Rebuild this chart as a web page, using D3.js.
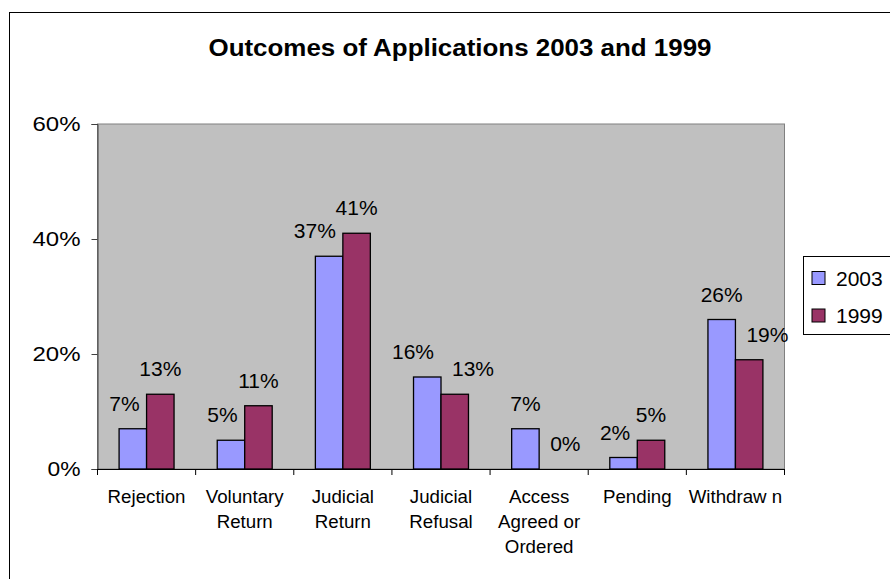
<!DOCTYPE html>
<html>
<head>
<meta charset="utf-8">
<script src="https://cdn.jsdelivr.net/npm/d3@7"></script>
<style>
  body { margin: 0; background: #fff; }
  svg { display: block; font-family: "Liberation Sans", Arial, sans-serif; }
</style>
</head>
<body>
<svg id="chart" width="890" height="579"></svg>
<script>
const title = 'Outcomes of Applications 2003 and 1999'
const categories = ['Rejection', 'Voluntary Return', 'Judicial Return', 'Judicial Refusal',
  'Access Agreed or Ordered', 'Pending', 'Withdraw n']
const categoryLines = [['Rejection'], ['Voluntary', 'Return'], ['Judicial', 'Return'],
  ['Judicial', 'Refusal'], ['Access', 'Agreed or', 'Ordered'], ['Pending'], ['Withdraw n']]
const seriesNames = ['2003', '1999']
const values2003 = [7, 5, 37, 16, 7, 2, 26]
const values1999 = [13, 11, 41, 13, 0, 5, 19]
const yTicks = [0, 20, 40, 60]
const colors = ['#9999FF', '#993366']

const svg = d3.select('#chart')
const plot = { left: 97.5, right: 784.5, top: 124, bottom: 469 }

// outer chart frame (runs off the right and bottom of the picture)
svg.append('rect')
  .attr('x', 9.5).attr('y', 12.5)
  .attr('width', 1000).attr('height', 1000)
  .attr('fill', '#fff').attr('stroke', '#000')

svg.append('text')
  .attr('x', 460).attr('y', 56)
  .attr('text-anchor', 'middle')
  .style('font-size', '23px').style('font-weight', 'bold')
  .attr('textLength', 503).attr('lengthAdjust', 'spacingAndGlyphs')
  .text(title)

const x = d3.scaleBand().domain(categories).range([plot.left, plot.right])
const bw = x.bandwidth()
const xSub = d3.scaleBand().domain(seriesNames).range([bw * 0.22, bw * 0.78])
const y = d3.scaleLinear().domain([0, 60]).range([plot.bottom, plot.top])

svg.append('rect')
  .attr('x', plot.left).attr('y', plot.top)
  .attr('width', plot.right - plot.left).attr('height', plot.bottom - plot.top)
  .attr('fill', '#C0C0C0').attr('stroke', '#808080')

// y axis
const yAxis = svg.append('g')
  .attr('transform', `translate(${plot.left},0)`)
  .call(d3.axisLeft(y).tickValues(yTicks).tickSize(6).tickPadding(11)
    .tickFormat(d => d + '%'))
yAxis.select('.domain').attr('stroke', '#404040')
yAxis.selectAll('line').attr('stroke', '#404040')
yAxis.selectAll('text').style('font-size', '21px').attr('fill', '#000')
  .attr('textLength', 48).attr('lengthAdjust', 'spacingAndGlyphs')
yAxis.selectAll('.tick').filter(d => d === 0).select('text')
  .attr('textLength', 33)

// x axis
const xAxis = svg.append('g')
  .attr('transform', `translate(0,${plot.bottom})`)
  .call(d3.axisBottom(x).tickSize(0).tickFormat(''))
xAxis.select('.domain').attr('stroke', '#000')
xAxis.selectAll('.tick').remove()
const bounds = categories.map(c => x(c)).concat([plot.right])
xAxis.selectAll('line.sep').data(bounds).join('line')
  .attr('class', 'sep')
  .attr('x1', d => d).attr('x2', d => d)
  .attr('y1', 0).attr('y2', 6)
  .attr('stroke', '#000')

const catLabels = svg.append('g')
categories.forEach((c, i) => {
  const t = catLabels.append('text')
    .attr('x', x(c) + bw / 2).attr('y', plot.bottom + 34)
    .attr('text-anchor', 'middle')
    .style('font-size', '18.7px')
  categoryLines[i].forEach((line, j) => {
    t.append('tspan').attr('x', x(c) + bw / 2).attr('dy', j === 0 ? 0 : 25).text(line)
  })
})

// bars
const rows = categories.map((c, i) => ({ cat: c, vals: [values2003[i], values1999[i]] }))
const groups = svg.append('g').selectAll('g').data(rows).join('g')
  .attr('transform', d => `translate(${x(d.cat)},0)`)
groups.selectAll('rect')
  .data(d => d.vals.map((v, k) => ({ v, k })))
  .join('rect')
  .attr('x', d => xSub(seriesNames[d.k]))
  .attr('y', d => y(d.v))
  .attr('width', xSub.bandwidth())
  .attr('height', d => plot.bottom - y(d.v))
  .attr('fill', d => colors[d.k])
  .attr('stroke', '#000').attr('stroke-width', 1.3)

// value labels, nudged sideways where they would run into the other bar
const labelG = svg.append('g')
rows.forEach(r => {
  const gx = x(r.cat)
  const b0 = { left: gx + xSub('2003'), right: gx + xSub('2003') + xSub.bandwidth(), top: y(r.vals[0]) }
  const b1 = { left: gx + xSub('1999'), right: gx + xSub('1999') + xSub.bandwidth(), top: y(r.vals[1]) }
  const fs = 21
  const mk = (v, cx) => labelG.append('text')
    .attr('x', cx).attr('y', y(v) - 18)
    .attr('text-anchor', 'middle')
    .style('font-size', fs + 'px')
    .text(v + '%')
  const t0 = mk(r.vals[0], (b0.left + b0.right) / 2)
  const t1 = mk(r.vals[1], (b1.left + b1.right) / 2)
  const w0 = t0.node().getComputedTextLength()
  const w1 = t1.node().getComputedTextLength()
  const base0 = y(r.vals[0]) - 18, base1 = y(r.vals[1]) - 18
  // 2003 label against the 1999 bar / label
  const r0 = (b0.left + b0.right) / 2 + w0 / 2
  const hitsBar = r0 > b1.left && base0 + 4 > b1.top
  const hitsLabel = r0 > (b1.left + b1.right) / 2 - w1 / 2 && Math.abs(base0 - base1) < fs
  if (hitsBar || hitsLabel) {
    t0.attr('text-anchor', 'end').attr('x', b0.right - 7)
  }
  // 1999 label against the 2003 bar
  const l1 = (b1.left + b1.right) / 2 - w1 / 2
  if (l1 < b0.right && base1 + 4 > b0.top) {
    t1.attr('text-anchor', 'start').attr('x', b1.left + 11)
  }
})

// legend
const legend = svg.append('g')
legend.append('rect')
  .attr('x', 803.5).attr('y', 256.5).attr('width', 200).attr('height', 78)
  .attr('fill', '#fff').attr('stroke', '#000')
seriesNames.forEach((s, i) => {
  const ly = 271.5 + i * 37.5
  legend.append('rect')
    .attr('x', 812).attr('y', ly).attr('width', 13).attr('height', 13)
    .attr('fill', colors[i]).attr('stroke', '#000')
  legend.append('text')
    .attr('x', 836).attr('y', ly + 14)
    .style('font-size', '21px')
    .text(s)
})
</script>
</body>
</html>
